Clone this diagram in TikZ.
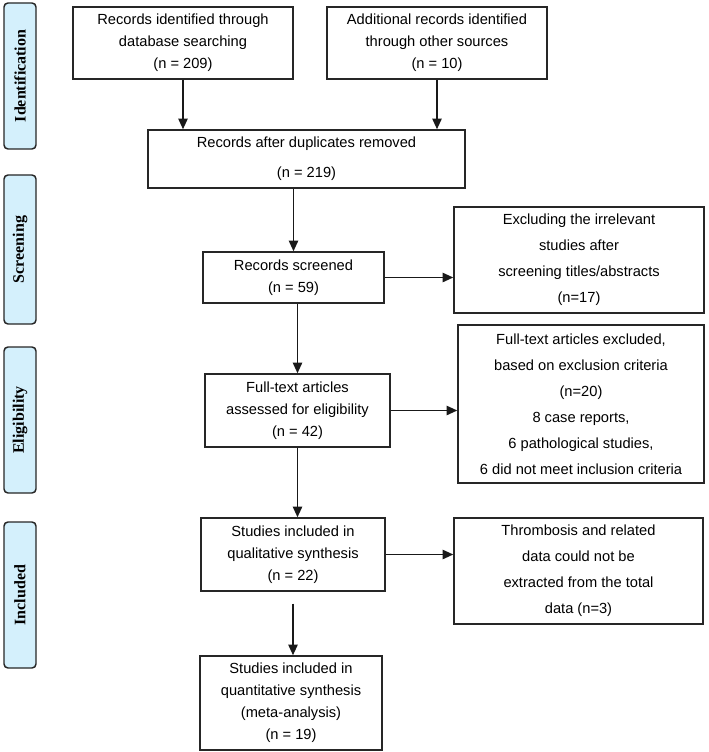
\documentclass[tikz,border=0pt]{standalone}
\usepackage{fontspec}
\setmainfont{Liberation Sans}
\newfontfamily\stagefont{Liberation Serif}
\usepackage{xcolor}
\usepackage{tikz}
\usetikzlibrary{arrows.meta}
\definecolor{stageblue}{RGB}{212,240,252}

\begin{document}
\begin{tikzpicture}[x=0.75pt, y=-0.75pt,
  box/.style={draw=black!85, line width=1.1pt, align=center, inner sep=2pt, font=\fontsize{11}{16.5}\selectfont},
  widebox/.style={box, font=\fontsize{11}{19.5}\selectfont},
  stage/.style={draw=black!85, line width=1.1pt, fill=stageblue, rounded corners=3pt, rotate=90, minimum width=109.5pt, minimum height=24pt, font=\stagefont\bfseries\fontsize{12}{14}\selectfont},
  arr/.style={-{Triangle[length=8pt,width=7pt]}, line width=1.2pt, draw=black!90}]
\useasboundingbox (0,0) rectangle (709,752);

\node[stage] (ident) at (20,76) {Identification};
\node[stage, minimum width=111.75pt] (scr) at (20,249.5) {Screening};
\node[stage] (elig) at (20,420) {Eligibility};
\node[stage] (incl) at (20,595) {Included};

\node[box, minimum width=165pt, minimum height=54pt] (db) at (183,43) {Records identified through\\database searching\\(n = 209)};
\node[box, minimum width=165pt, minimum height=54pt] (other) at (437,43) {Additional records identified\\through other sources\\(n = 10)};
\node[box, minimum width=237.75pt, minimum height=43.5pt] (dedup) at (306.5,159) {Records after duplicates removed\\[6pt](n = 219)};
\node[box, minimum width=135.75pt, minimum height=38.25pt] (screen) at (293.5,277.5) {Records screened\\(n = 59)};
\node[widebox, minimum width=187.5pt, minimum height=79.5pt] (excl1) at (579,260) {Excluding the irrelevant\\studies after\\screening titles/abstracts\\(n=17)};
\node[box, minimum width=138.75pt, minimum height=54.75pt] (full) at (297.5,410.5) {Full-text articles\\assessed for eligibility\\(n = 42)};
\node[widebox, minimum width=184.5pt, minimum height=118.5pt] (excl2) at (581,404) {Full-text articles excluded,\\based on exclusion criteria\\(n=20)\\8 case reports,\\6 pathological studies,\\6 did not meet inclusion criteria};
\node[box, minimum width=138pt, minimum height=54.75pt] (qual) at (293,554.5) {Studies included in\\qualitative synthesis\\(n = 22)};
\node[widebox, minimum width=186.75pt, minimum height=79.5pt] (excl3) at (578.5,571) {Thrombosis and related\\data could not be\\extracted from the total\\data (n=3)};
\node[box, minimum width=136.5pt, minimum height=70.5pt] (quant) at (291,703) {Studies included in\\quantitative synthesis\\(meta-analysis)\\(n = 19)};

\draw[arr] (db.south) -- (db.south |- dedup.north);
\draw[arr] (other.south) -- (other.south |- dedup.north);
\draw[arr] (dedup.south -| screen.north) -- (screen.north);
\draw[arr] (screen.east) -- (screen.east -| excl1.west);
\draw[arr] (screen.south -| full.north) -- (full.north);
\draw[arr] (full.east) -- (full.east -| excl2.west);
\draw[arr] (full.south) -- (full.south |- qual.north);
\draw[arr] (qual.east) -- (qual.east -| excl3.west);
\draw[arr] ([yshift=-9pt]qual.south) -- (qual.south |- quant.north);
\end{tikzpicture}
\end{document}
